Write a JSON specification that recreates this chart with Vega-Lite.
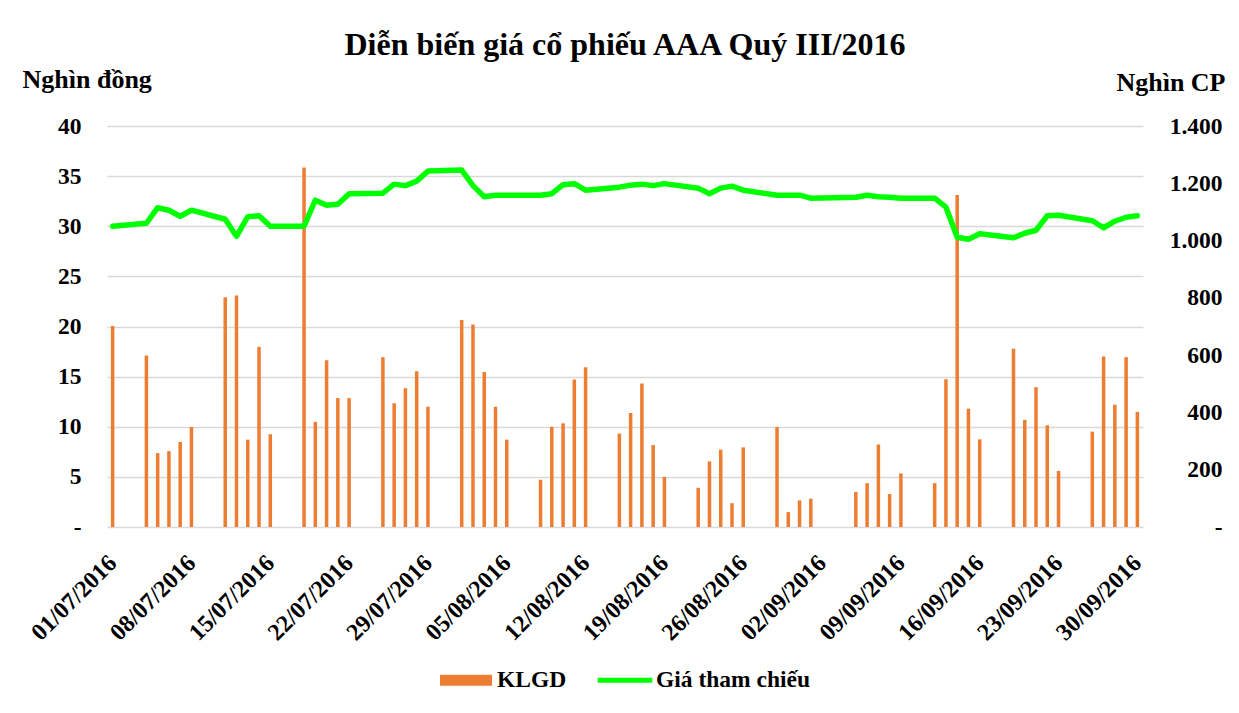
{
  "$schema": "https://vega.github.io/schema/vega-lite/v6.json",
  "width": 1036,
  "height": 401,
  "autosize": "none",
  "padding": {"left": 107, "top": 126, "right": 96, "bottom": 186},
  "background": "white",
  "title": {
    "text": "Diễn biến giá cổ phiếu AAA Quý III/2016",
    "font": "Liberation Serif",
    "fontSize": 32,
    "fontWeight": "bold",
    "color": "black",
    "anchor": "middle",
    "frame": "group",
    "offset": 4
  },
  "config": {
    "view": {"stroke": null},
    "font": "Liberation Serif"
  },
  "data": {
    "values": [
      {"date": "2016-07-01", "klgd": 702, "gia": 30.0},
      {"date": "2016-07-04", "klgd": 599, "gia": 30.3},
      {"date": "2016-07-05", "klgd": 258, "gia": 31.85},
      {"date": "2016-07-06", "klgd": 265, "gia": 31.6},
      {"date": "2016-07-07", "klgd": 297, "gia": 31.0},
      {"date": "2016-07-08", "klgd": 349, "gia": 31.6},
      {"date": "2016-07-11", "klgd": 802, "gia": 30.7},
      {"date": "2016-07-12", "klgd": 808, "gia": 29.0},
      {"date": "2016-07-13", "klgd": 305, "gia": 30.95},
      {"date": "2016-07-14", "klgd": 629, "gia": 31.05},
      {"date": "2016-07-15", "klgd": 324, "gia": 30.0},
      {"date": "2016-07-18", "klgd": 1255, "gia": 30.0},
      {"date": "2016-07-19", "klgd": 367, "gia": 32.6},
      {"date": "2016-07-20", "klgd": 582, "gia": 32.1},
      {"date": "2016-07-21", "klgd": 450, "gia": 32.2},
      {"date": "2016-07-22", "klgd": 450, "gia": 33.25},
      {"date": "2016-07-25", "klgd": 593, "gia": 33.3},
      {"date": "2016-07-26", "klgd": 432, "gia": 34.2},
      {"date": "2016-07-27", "klgd": 484, "gia": 34.05},
      {"date": "2016-07-28", "klgd": 544, "gia": 34.5},
      {"date": "2016-07-29", "klgd": 420, "gia": 35.5},
      {"date": "2016-08-01", "klgd": 723, "gia": 35.6},
      {"date": "2016-08-02", "klgd": 707, "gia": 34.05},
      {"date": "2016-08-03", "klgd": 541, "gia": 32.95},
      {"date": "2016-08-04", "klgd": 420, "gia": 33.1},
      {"date": "2016-08-05", "klgd": 305, "gia": 33.1},
      {"date": "2016-08-08", "klgd": 165, "gia": 33.1},
      {"date": "2016-08-09", "klgd": 350, "gia": 33.25},
      {"date": "2016-08-10", "klgd": 362, "gia": 34.15},
      {"date": "2016-08-11", "klgd": 515, "gia": 34.25},
      {"date": "2016-08-12", "klgd": 558, "gia": 33.6},
      {"date": "2016-08-15", "klgd": 326, "gia": 33.9},
      {"date": "2016-08-16", "klgd": 398, "gia": 34.1},
      {"date": "2016-08-17", "klgd": 501, "gia": 34.2},
      {"date": "2016-08-18", "klgd": 286, "gia": 34.05},
      {"date": "2016-08-19", "klgd": 175, "gia": 34.25},
      {"date": "2016-08-22", "klgd": 137, "gia": 33.8},
      {"date": "2016-08-23", "klgd": 229, "gia": 33.25},
      {"date": "2016-08-24", "klgd": 270, "gia": 33.8},
      {"date": "2016-08-25", "klgd": 83, "gia": 34.0},
      {"date": "2016-08-26", "klgd": 278, "gia": 33.6},
      {"date": "2016-08-29", "klgd": 349, "gia": 33.1},
      {"date": "2016-08-30", "klgd": 52, "gia": 33.1},
      {"date": "2016-08-31", "klgd": 93, "gia": 33.1},
      {"date": "2016-09-01", "klgd": 99, "gia": 32.8},
      {"date": "2016-09-05", "klgd": 122, "gia": 32.9},
      {"date": "2016-09-06", "klgd": 153, "gia": 33.1},
      {"date": "2016-09-07", "klgd": 288, "gia": 32.95},
      {"date": "2016-09-08", "klgd": 115, "gia": 32.9},
      {"date": "2016-09-09", "klgd": 187, "gia": 32.8},
      {"date": "2016-09-12", "klgd": 153, "gia": 32.8},
      {"date": "2016-09-13", "klgd": 516, "gia": 31.9},
      {"date": "2016-09-14", "klgd": 1159, "gia": 28.9},
      {"date": "2016-09-15", "klgd": 413, "gia": 28.7},
      {"date": "2016-09-16", "klgd": 306, "gia": 29.25},
      {"date": "2016-09-19", "klgd": 622, "gia": 28.85},
      {"date": "2016-09-20", "klgd": 374, "gia": 29.3},
      {"date": "2016-09-21", "klgd": 488, "gia": 29.6},
      {"date": "2016-09-22", "klgd": 355, "gia": 31.05},
      {"date": "2016-09-23", "klgd": 196, "gia": 31.1},
      {"date": "2016-09-26", "klgd": 333, "gia": 30.55},
      {"date": "2016-09-27", "klgd": 595, "gia": 29.85},
      {"date": "2016-09-28", "klgd": 427, "gia": 30.5},
      {"date": "2016-09-29", "klgd": 593, "gia": 30.9},
      {"date": "2016-09-30", "klgd": 402, "gia": 31.05}
    ]
  },
  "layer": [
    {
      "mark": {"type": "bar", "width": 3.5, "color": "#ED7D31"},
      "encoding": {
        "x": {
          "field": "date",
          "type": "temporal",
          "scale": {
            "type": "utc",
            "padding": 0,
            "domain": [
              {"year": 2016, "month": 6, "date": 30, "hours": 12, "utc": true},
              {"year": 2016, "month": 9, "date": 30, "hours": 12, "utc": true}
            ]
          },
          "axis": {
            "values": [
              {"year": 2016, "month": 7, "date": 1, "utc": true},
              {"year": 2016, "month": 7, "date": 8, "utc": true},
              {"year": 2016, "month": 7, "date": 15, "utc": true},
              {"year": 2016, "month": 7, "date": 22, "utc": true},
              {"year": 2016, "month": 7, "date": 29, "utc": true},
              {"year": 2016, "month": 8, "date": 5, "utc": true},
              {"year": 2016, "month": 8, "date": 12, "utc": true},
              {"year": 2016, "month": 8, "date": 19, "utc": true},
              {"year": 2016, "month": 8, "date": 26, "utc": true},
              {"year": 2016, "month": 9, "date": 2, "utc": true},
              {"year": 2016, "month": 9, "date": 9, "utc": true},
              {"year": 2016, "month": 9, "date": 16, "utc": true},
              {"year": 2016, "month": 9, "date": 23, "utc": true},
              {"year": 2016, "month": 9, "date": 30, "utc": true}
            ],
            "labelExpr": "utcFormat(datum.value, '%d/%m/%Y')",
            "labelAngle": -45,
            "labelAlign": "right",
            "labelBaseline": "middle",
            "labelPadding": 32,
            "ticks": false,
            "domain": false,
            "grid": false,
            "title": null,
            "labelFont": "Liberation Serif",
            "labelFontSize": 24,
            "labelFontWeight": "bold",
            "labelColor": "black",
            "labelOverlap": false,
            "labelBound": false,
            "labelFlush": false
          }
        },
        "y": {
          "field": "klgd",
          "type": "quantitative",
          "scale": {"domain": [0, 1400]},
          "axis": {
            "orient": "right",
            "values": [0, 200, 400, 600, 800, 1000, 1200, 1400],
            "labelExpr": "datum.value == 0 ? '-\u00a0\u00a0\u00a0\u00a0\u00a0\u00a0\u00a0\u00a0\u00a0\u00a0' : replace(format(datum.value, ','), ',', '.')",
            "grid": false,
            "domain": false,
            "ticks": false,
            "labelAlign": "right",
            "labelPadding": 79,
            "labelFont": "Liberation Serif",
            "labelFontSize": 23.5,
            "labelFontWeight": "bold",
            "labelColor": "black",
            "title": "Nghìn CP",
            "titleAngle": 0,
            "titleAlign": "right",
            "titleBaseline": "alphabetic",
            "titleX": 82,
            "titleY": -36,
            "titleFont": "Liberation Serif",
            "titleFontSize": 26,
            "titleFontWeight": "bold",
            "titleColor": "black"
          }
        },
        "color": {
          "datum": "KLGD",
          "type": "nominal",
          "scale": {"domain": ["KLGD", "Giá tham chiếu"], "range": ["#ED7D31", "#00FF00"]},
          "legend": {
            "orient": "none",
            "legendX": 333,
            "legendY": 528,
            "direction": "horizontal",
            "title": null,
            "labelFont": "Liberation Serif",
            "labelFontSize": 23.5,
            "labelFontWeight": "bold",
            "labelColor": "black",
            "symbolSize": 2704,
            "labelOffset": 5,
            "columnPadding": 30,
            "labelLimit": 400,
            "encode": {
              "symbols": {
                "update": {
                  "shape": {"signal": "datum.value === 'KLGD' ? 'M-1,-0.21H1V0.21H-1Z' : 'M-1.05,-0.1H1.05V0.1H-1.05Z'"},
                  "fill": {"signal": "datum.value === 'KLGD' ? '#ED7D31' : '#00FF00'"},
                  "stroke": {"value": "transparent"},
                  "strokeWidth": {"value": 0},
                  "opacity": {"value": 1}
                }
              }
            }
          }
        }
      }
    },
    {
      "mark": {"type": "line", "strokeWidth": 5.5, "strokeJoin": "round", "strokeCap": "round"},
      "encoding": {
        "x": {"field": "date", "type": "temporal"},
        "y": {
          "field": "gia",
          "type": "quantitative",
          "scale": {"domain": [0, 40]},
          "axis": {
            "orient": "left",
            "values": [0, 5, 10, 15, 20, 25, 30, 35, 40],
            "labelExpr": "datum.value == 0 ? '-\u00a0\u00a0' : format(datum.value, 'd')",
            "grid": true,
            "gridColor": "#D9D9D9",
            "gridWidth": 1.5,
            "domain": false,
            "ticks": false,
            "labelPadding": 26,
            "labelFont": "Liberation Serif",
            "labelFontSize": 23.5,
            "labelFontWeight": "bold",
            "labelColor": "black",
            "title": "Nghìn đồng",
            "titleAngle": 0,
            "titleAlign": "left",
            "titleBaseline": "alphabetic",
            "titleX": -85,
            "titleY": -39,
            "titleFont": "Liberation Serif",
            "titleFontSize": 26,
            "titleFontWeight": "bold",
            "titleColor": "black"
          }
        },
        "color": {"datum": "Giá tham chiếu", "type": "nominal"}
      }
    }
  ],
  "resolve": {"scale": {"y": "independent"}}
}
